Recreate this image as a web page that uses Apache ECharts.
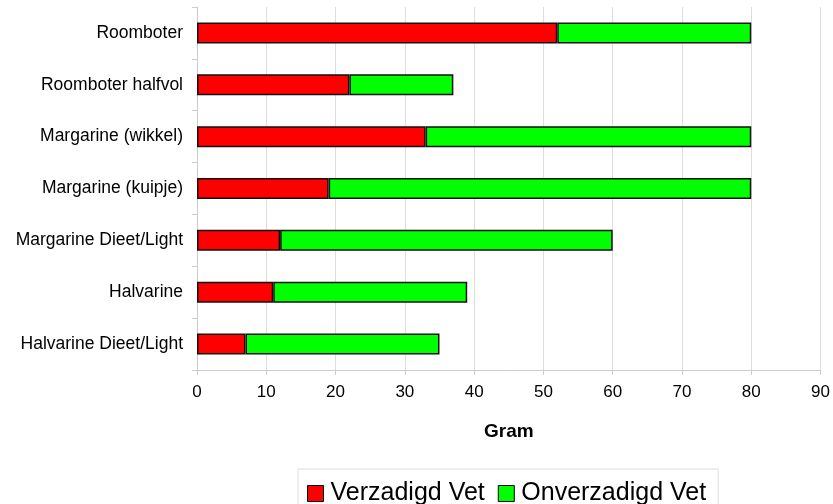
<!DOCTYPE html>
<html><head><meta charset="utf-8">
<script src="https://cdn.jsdelivr.net/npm/echarts@6/dist/echarts.min.js"></script>
<style>html,body{margin:0;padding:0;background:#fff}#c{width:833px;height:504px}</style>
</head><body><div id="c"></div>
<script>
const categories = ["Roomboter","Roomboter halfvol","Margarine (wikkel)","Margarine (kuipje)","Margarine Dieet/Light","Halvarine","Halvarine Dieet/Light"];
const verzadigd = [52,22,33,19,12,11,7];
const onverzadigd = [28,15,47,61,48,28,28];
const xTicks = {min:0,max:90,interval:10};
const seriesNames = ["Verzadigd Vet","Onverzadigd Vet"];
const axisTitle = "Gram";

const font = "Liberation Sans, Arial, sans-serif";
const chart = echarts.init(document.getElementById('c'));
chart.setOption({
  animation:false,
  textStyle:{fontFamily:font},
  grid:{left:197,right:11,top:7,bottom:134,containLabel:false},
  legend:{
    top:469,left:298,
    itemWidth:16,itemHeight:16,itemGap:13,
    borderColor:'#ddd',borderWidth:1,padding:[12,12,20,9],
    textStyle:{fontSize:25,color:'#000',fontFamily:font,padding:[0,0,0,2]},
    icon:'rect',
    data:seriesNames.map(n=>({name:n,itemStyle:{borderColor:'#000',borderWidth:1}}))
  },
  xAxis:{
    type:'value',min:xTicks.min,max:xTicks.max,interval:xTicks.interval,
    name:axisTitle,nameLocation:'middle',nameGap:52,
    nameTextStyle:{fontSize:19,fontWeight:'bold',color:'#000',fontFamily:font},
    axisLine:{show:true,lineStyle:{color:'#ccc'}},
    axisTick:{show:true,length:5,lineStyle:{color:'#ccc'}},
    axisLabel:{fontSize:17,color:'#000',margin:14,fontFamily:font},
    splitLine:{show:true,lineStyle:{color:'#ddd'}}
  },
  yAxis:{
    type:'category',data:categories,inverse:true,
    axisLine:{show:true,lineStyle:{color:'#ccc'}},
    axisTick:{show:true,length:5,lineStyle:{color:'#ccc'}},
    axisLabel:{fontSize:17.5,color:'#000',margin:14,fontFamily:font},
    splitLine:{show:false}
  },
  series:[
    {name:seriesNames[0],type:'bar',stack:'a',data:verzadigd,barWidth:21,
     itemStyle:{color:'#ff0000',borderColor:'#111',borderWidth:1.5}},
    {name:seriesNames[1],type:'bar',stack:'a',data:onverzadigd,barWidth:21,
     itemStyle:{color:'#00ff00',borderColor:'#111',borderWidth:1.5}}
  ]
});
</script></body></html>
